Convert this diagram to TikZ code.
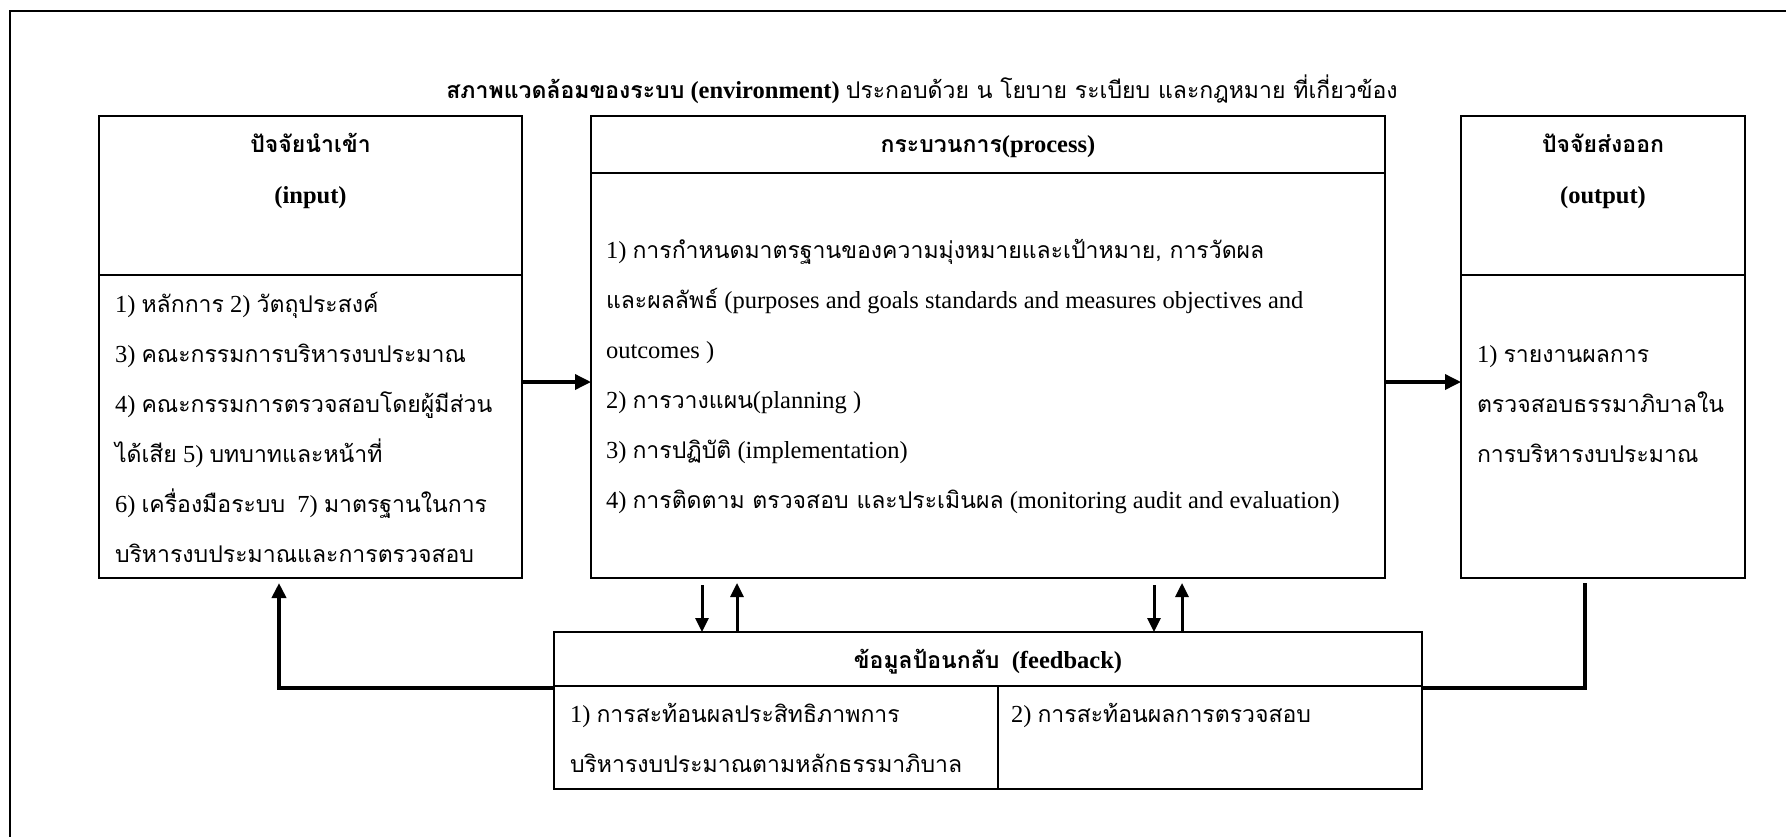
\documentclass[tikz,border=0pt]{standalone}
\usepackage{fontspec}
\setmainfont{Liberation Serif}
\newfontfamily\thaifont[Script=Thai,Scale=0.94]{Loma}
\newcommand{\tha}[1]{{\thaifont #1}}
\newcommand{\diagfont}{\fontsize{24.5}{50}\selectfont}
\usetikzlibrary{arrows.meta}

\begin{document}
\begin{tikzpicture}[x=1pt,y=-1pt,
  box/.style={draw, rectangle, line width=2pt, inner sep=0pt, outer sep=0pt},
  rule/.style={line width=2pt},
  frameline/.style={line width=2.5pt},
  flow/.style={line width=3.5pt, -{Triangle[length=16pt,width=15pt]}},
  vflow/.style={line width=3pt, -{Triangle[length=14pt,width=13pt]}},
  loopline/.style={line width=3.8pt},
  txt/.style={inner sep=0pt, outer sep=0pt, align=left, font=\diagfont},
  head/.style={inner sep=0pt, outer sep=0pt, font=\diagfont\bfseries}
]
\useasboundingbox (0,0) rectangle (1786,836);
\clip (0,0) rectangle (1786,836);

% outer frame (runs past the page on the right and bottom)
\draw[frameline] (10,900) -- (10,11) -- (1900,11);

% environment line
\node[anchor=base, inner sep=0pt, font=\diagfont] (env) at (922,98)
  {{\bfseries\tha{สภาพแวดล้อมของระบบ} (environment)} \tha{ประกอบด้วย น โยบาย ระเบียบ และกฎหมาย ที่เกี่ยวข้อง}};

% three main boxes
\node[box, minimum width=423, minimum height=462] (inbox) at (310.5,347) {};
\node[box, minimum width=794, minimum height=462] (prbox) at (988,347) {};
\node[box, minimum width=284, minimum height=462] (outbox) at (1603,347) {};

% header dividers
\draw[rule] (inbox.west |- 0,275) -- (inbox.east |- 0,275);
\draw[rule] (prbox.west |- 0,173) -- (prbox.east |- 0,173);
\draw[rule] (outbox.west |- 0,275) -- (outbox.east |- 0,275);

% headers
\node[head, anchor=base] (inhead) at (310.5,152) {\tha{ปัจจัยนำเข้า}};
\node[head, anchor=base] (insub) at (310.5,203) {(input)};
\node[head, anchor=base] (prhead) at (988,152) {\tha{กระบวนการ}(process)};
\node[head, anchor=base] (outhead) at (1603,152) {\tha{ปัจจัยส่งออก}};
\node[head, anchor=base] (outsub) at (1603,203) {(output)};

% box contents (anchored at the baseline of the last line)
\node[txt, anchor=base west] (intext) at (115,562)
  {1) \tha{หลักการ} 2) \tha{วัตถุประสงค์}\\
   3) \tha{คณะกรรมการบริหารงบประมาณ}\\
   4) \tha{คณะกรรมการตรวจสอบโดยผู้มีส่วน}\\
   \tha{ได้เสีย} 5) \tha{บทบาทและหน้าที่}\\
   6) \tha{เครื่องมือระบบ}\ \ 7) \tha{มาตรฐานในการ}\\
   \tha{บริหารงบประมาณและการตรวจสอบ}};

\node[txt, anchor=base west] (prtext) at (606,508)
  {1) \tha{การกำหนดมาตรฐานของความมุ่งหมายและเป้าหมาย, การวัดผล}\\
   \tha{และผลลัพธ์} (purposes and goals standards and measures objectives and\\
   outcomes )\\
   2) \tha{การวางแผน}(planning )\\
   3) \tha{การปฏิบัติ} (implementation)\\
   4) \tha{การติดตาม ตรวจสอบ และประเมินผล} (monitoring audit and evaluation)};

\node[txt, anchor=base west] (outtext) at (1477,462)
  {1) \tha{รายงานผลการ}\\
   \tha{ตรวจสอบธรรมาภิบาลใน}\\
   \tha{การบริหารงบประมาณ}};

% feedback box
\node[box, minimum width=868, minimum height=157] (fbbox) at (988,710.5) {};
\draw[rule] (fbbox.west |- 0,686) -- (fbbox.east |- 0,686);
\draw[rule] (fbbox.south -| 998,0) -- (998,686);
\node[head, anchor=base] (fbhead) at (988,668) {\tha{ข้อมูลป้อนกลับ}\ \ (feedback)};
\node[txt, anchor=base west] (fbleft) at (570,772)
  {1) \tha{การสะท้อนผลประสิทธิภาพการ}\\
   \tha{บริหารงบประมาณตามหลักธรรมาภิบาล}};
\node[txt, anchor=base west] (fbright) at (1011,722)
  {2) \tha{การสะท้อนผลการตรวจสอบ}};

% forward flow
\draw[flow] (inbox.east |- 0,382) -- (prbox.west |- 0,382);
\draw[flow] (prbox.east |- 0,382) -- (outbox.west |- 0,382);

% exchange between process and feedback
\draw[vflow, shorten <=7pt] (prbox.south -| 702,0) -- (fbbox.north -| 702,0);
\draw[vflow, shorten >=5pt] (fbbox.north -| 737,0) -- (prbox.south -| 737,0);
\draw[vflow, shorten <=7pt] (prbox.south -| 1154,0) -- (fbbox.north -| 1154,0);
\draw[vflow, shorten >=5pt] (fbbox.north -| 1182,0) -- (prbox.south -| 1182,0);

% feedback loops to input and from output
\coordinate (loopL) at (279,688);
\coordinate (loopR) at (1585,688);
\draw[loopline, -{Triangle[length=15pt,width=14pt]}, shorten >=5pt]
  (fbbox.west |- loopL) -- (loopL) -- (inbox.south -| loopL);
\draw[loopline, shorten <=5pt]
  (outbox.south -| loopR) -- (loopR) -- (fbbox.east |- loopR);
\end{tikzpicture}
\end{document}
